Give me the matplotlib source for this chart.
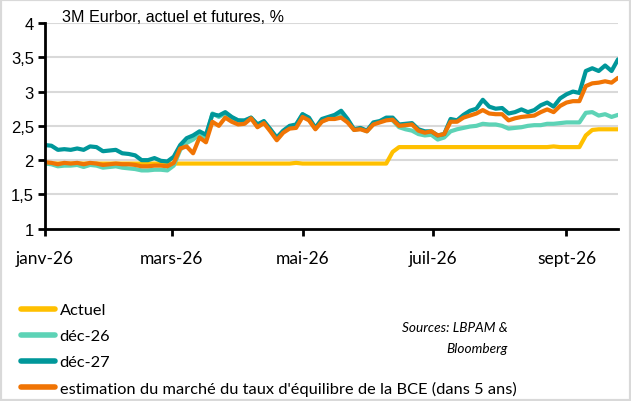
import matplotlib
matplotlib.use("Agg")
import matplotlib.pyplot as plt
import matplotlib.patches as patches
import numpy as np
import pandas as pd

# data (one point every 3 days from 1 Jan)
dates = pd.date_range('2026-01-01', periods=90, freq='3D')

actuel = [1.95] * 39 + [1.96] + [1.95] * 14 + [2.12] + [2.19] * 24 + [2.20] + \
         [2.19, 2.19, 2.19, 2.19, 2.36, 2.44, 2.45, 2.45, 2.45, 2.45]

dec26 = [1.95, 1.94, 1.91, 1.92, 1.92, 1.93, 1.90, 1.93, 1.92, 1.89,
         1.90, 1.91, 1.89, 1.88, 1.87, 1.85, 1.85, 1.86, 1.86, 1.85,
         1.92, 2.15, 2.25, 2.30, 2.38, 2.33, 2.68, 2.63, 2.68, 2.62,
         2.58, 2.56, 2.62, 2.52, 2.56, 2.45, 2.31, 2.42, 2.49, 2.51,
         2.67, 2.60, 2.46, 2.58, 2.60, 2.63, 2.68, 2.58, 2.44, 2.46,
         2.42, 2.53, 2.56, 2.60, 2.58, 2.48, 2.45, 2.43, 2.38, 2.36,
         2.37, 2.30, 2.33, 2.42, 2.45, 2.47, 2.49, 2.50, 2.53, 2.52,
         2.52, 2.50, 2.46, 2.47, 2.48, 2.50, 2.51, 2.51, 2.53, 2.53,
         2.54, 2.55, 2.55, 2.55, 2.69, 2.70, 2.65, 2.67, 2.63, 2.66]

dec27 = [2.22, 2.21, 2.15, 2.16, 2.15, 2.17, 2.15, 2.20, 2.19, 2.13,
         2.14, 2.15, 2.10, 2.09, 2.07, 2.00, 2.00, 2.03, 1.99, 1.98,
         2.05, 2.22, 2.32, 2.36, 2.42, 2.37, 2.67, 2.65, 2.70, 2.63,
         2.58, 2.58, 2.62, 2.52, 2.57, 2.45, 2.33, 2.43, 2.50, 2.52,
         2.67, 2.62, 2.47, 2.60, 2.63, 2.66, 2.72, 2.60, 2.45, 2.47,
         2.43, 2.55, 2.57, 2.62, 2.62, 2.52, 2.53, 2.54, 2.45, 2.42,
         2.42, 2.36, 2.38, 2.60, 2.58, 2.66, 2.72, 2.75, 2.88, 2.78,
         2.75, 2.76, 2.68, 2.70, 2.74, 2.70, 2.73, 2.80, 2.84, 2.78,
         2.90, 2.96, 3.00, 2.98, 3.30, 3.34, 3.30, 3.38, 3.30, 3.47]

equilibre = [1.97, 1.96, 1.94, 1.96, 1.95, 1.96, 1.94, 1.96, 1.95, 1.93,
             1.94, 1.95, 1.94, 1.94, 1.93, 1.91, 1.91, 1.92, 1.92, 1.91,
             1.96, 2.17, 2.20, 2.10, 2.33, 2.26, 2.56, 2.50, 2.62, 2.56,
             2.52, 2.53, 2.61, 2.48, 2.54, 2.42, 2.29, 2.40, 2.46, 2.47,
             2.63, 2.58, 2.45, 2.56, 2.60, 2.60, 2.62, 2.55, 2.44, 2.45,
             2.42, 2.52, 2.55, 2.58, 2.59, 2.50, 2.51, 2.52, 2.43, 2.40,
             2.42, 2.36, 2.38, 2.56, 2.56, 2.62, 2.65, 2.68, 2.73, 2.68,
             2.67, 2.67, 2.58, 2.61, 2.63, 2.64, 2.65, 2.70, 2.74, 2.70,
             2.79, 2.84, 2.86, 2.86, 3.08, 3.12, 3.13, 3.15, 3.13, 3.20]

labels = ['Actuel', 'déc-26', 'déc-27',
          "estimation du marché du taux d'équilibre de la BCE (dans 5 ans)"]
colors = ['#FFC000', '#5DD3B6', '#00979A', '#F07404']

tick_dates = ['2026-01-01', '2026-03-01', '2026-05-01', '2026-07-01', '2026-09-01']
tick_labels = ['janv-26', 'mars-26', 'mai-26', 'juil-26', 'sept-26']
y_ticks = [1, 1.5, 2, 2.5, 3, 3.5, 4]
y_labels = ['1', '1,5', '2', '2,5', '3', '3,5', '4']

# plot
fig = plt.figure(figsize=(6.31, 4.02), dpi=100)
ax = fig.add_axes([45 / 631, 1 - 229.7 / 402, 573 / 631, 205.7 / 402])

series = [actuel, dec26, dec27, equilibre]
for vals, lab, col in zip(series, labels, colors):
    ax.plot(dates, vals, color=col, lw=3.0, label=lab, solid_capstyle='round')

ax.set_xlim(dates[0], dates[-1])
ax.set_ylim(1, 4)
ax.set_yticks(y_ticks)
ax.set_yticklabels(y_labels, fontfamily='Liberation Sans', fontsize=12)
ax.set_xticks(pd.to_datetime(tick_dates))
ax.set_xticklabels(tick_labels, fontfamily='Lato', fontsize=12.5)
ax.tick_params(axis='both', direction='out', length=5, width=2, color='black')
ax.tick_params(axis='x', pad=10)
ax.tick_params(axis='y', pad=3)

ax.grid(axis='y', color='#d9d9d9', lw=1.5)
ax.set_axisbelow(True)
for s in ['top', 'right']:
    ax.spines[s].set_visible(False)
ax.spines['left'].set_linewidth(2)
ax.spines['bottom'].set_linewidth(2)

fig.text(62 / 631, 1 - 17 / 402, '3M Eurbor, actuel et futures, %',
         fontfamily='Liberation Sans', fontsize=11.6, va='center')

leg = fig.legend(loc='upper left', bbox_to_anchor=(21 / 631, 1 - 304 / 402),
                 frameon=False, prop={'family': 'Lato', 'size': 11.8},
                 handlelength=2.05, handletextpad=0.3, labelspacing=0.7,
                 borderaxespad=0, borderpad=0)
for line in leg.get_lines():
    line.set_linewidth(4)

fig.text(508 / 631, 1 - 328 / 402, 'Sources: LBPAM &', fontfamily='Lato',
         fontstyle='italic', fontsize=9.8, ha='right', va='center')
fig.text(508 / 631, 1 - 349 / 402, 'Bloomberg', fontfamily='Lato',
         fontstyle='italic', fontsize=9.8, ha='right', va='center')

# grey frame around the picture
fig.patches.append(patches.Rectangle((0, 0), 1, 1, transform=fig.transFigure,
                                     fill=False, ec='#d9d9d9', lw=3))

fig.savefig('out.png', dpi=100)
